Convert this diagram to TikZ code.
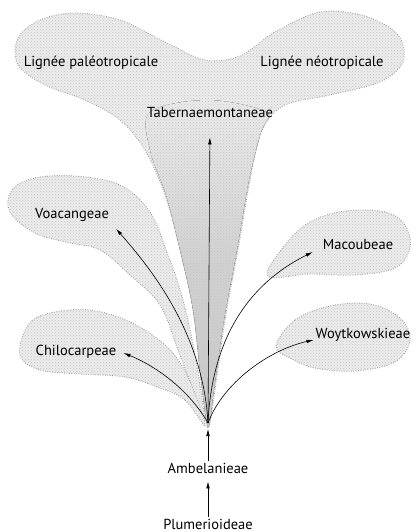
\documentclass[tikz,border=0pt]{standalone}
\usepackage{fontspec}
\setmainfont{PT Sans}
\usetikzlibrary{arrows.meta,patterns}

\begin{document}
\begin{tikzpicture}[x=1pt, y=-1pt,
      blobedge/.style={draw=gray!75, line width=0.9pt, dash pattern=on 0.8pt off 1.6pt,
        postaction={pattern=crosshatch dots, pattern color=gray!45}},
      blob/.style={fill=gray!15, blobedge},
      stemfill/.style={top color=gray!15, bottom color=gray!42, middle color=gray!36},
      tribe/.style={font=\fontsize{14.5}{16}\selectfont, inner sep=2pt},
      branch/.style={-{Latex[length=7pt,width=3.6pt]}, line width=0.6pt}
    ]
      \useasboundingbox (0,0) rectangle (415,532);

      % side groups
      \draw[blob] plot[smooth cycle, tension=0.6] coordinates {(205,425) (195,395) (178,350) (160,305) (130,275) (100,250) (70,243) (35,233) (10,212) (12,190) (35,178) (75,176) (120,185) (150,212) (168,255) (183,300) (196,360)};
      \draw[blob] plot[smooth cycle, tension=0.6] coordinates {(205,425) (185,400) (160,388) (125,377) (80,374) (40,370) (20,355) (28,325) (50,313) (90,310) (130,322) (165,345) (187,375)};
      \draw[blob] plot[smooth cycle, tension=0.6] coordinates {(268,276) (285,245) (310,222) (345,211) (385,212) (405,225) (410,248) (395,268) (355,275) (310,274)};
      \draw[blob] plot[smooth cycle, tension=0.6] coordinates {(276,346) (295,320) (330,306) (370,304) (400,318) (410,340) (395,362) (355,371) (315,368) (290,358)};

      % main lineage
      \fill[gray!15] plot[smooth cycle, tension=0.55] coordinates {(208,428) (201,380) (193,310) (180,250) (165,195) (145,150) (120,120) (85,100) (45,85) (18,65) (18,38) (40,20) (75,13) (120,20) (165,42) (205,60) (240,56) (275,32) (320,12) (365,16) (398,35) (403,62) (380,82) (330,95) (285,105) (262,130) (250,180) (238,250) (225,320) (215,390)};
      \fill[stemfill] plot[smooth cycle, tension=0.55] coordinates {(208,427) (201,380) (193,310) (180,250) (166,195) (150,150) (150,112) (208,100) (266,112) (261,132) (249,180) (237,250) (224,320) (214,390)};
      \draw[blobedge] plot[smooth cycle, tension=0.55] coordinates {(208,428) (201,380) (193,310) (180,250) (165,195) (145,150) (120,120) (85,100) (45,85) (18,65) (18,38) (40,20) (75,13) (120,20) (165,42) (205,60) (240,56) (275,32) (320,12) (365,16) (398,35) (403,62) (380,82) (330,95) (285,105) (262,130) (250,180) (238,250) (225,320) (215,390)};

      % labels
      \node[tribe] (paleo) at (91,63) {Lignée paléotropicale};
      \node[tribe] (neo) at (322,63) {Lignée néotropicale};
      \node[tribe] (taber) at (210,113) {Tabernaemontaneae};
      \node[tribe] (voac) at (72,215) {Voacangeae};
      \node[tribe] (chilo) at (76,352) {Chilocarpeae};
      \node[tribe] (macou) at (358,245) {Macoubeae};
      \node[tribe] (woyt) at (363,335) {Woytkowskieae};
      \node[tribe] (ambel) at (208,468) {Ambelanieae};
      \node[tribe] (plum) at (208,524) {Plumerioideae};
      \coordinate (root) at (208,423);

      % branches
      \draw[branch, shorten >=17pt] (root) -- (taber.south);
      \draw[branch] (root) .. controls +(-5,-90) and +(35,40) .. ([shift={(5,5)}]voac.south east);
      \draw[branch] (root) .. controls +(-20,-35) and +(30,12) .. ([shift={(5,1)}]chilo.east);
      \draw[branch] (root) .. controls +(5,-110) and +(-40,20) .. ([shift={(-8,7)}]macou.west);
      \draw[branch] (root) .. controls +(15,-40) and +(-45,10) .. ([shift={(0,5)}]woyt.west);
      \draw[branch, shorten >=6pt] (ambel) -- (root);
      \draw[branch, shorten >=6pt] (plum) -- (ambel);
    \end{tikzpicture}
\end{document}
